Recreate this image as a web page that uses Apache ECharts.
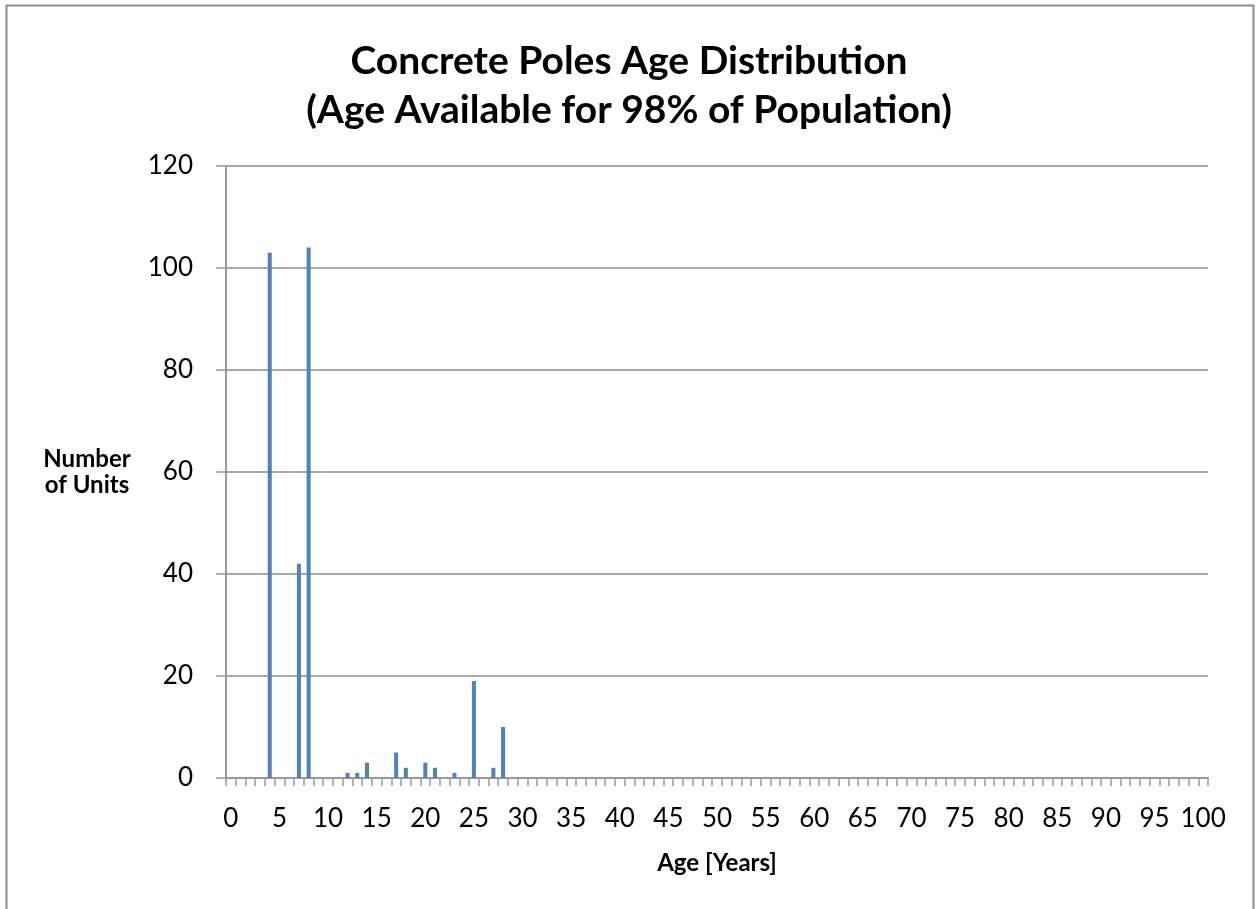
<!DOCTYPE html>
<html>
<head>
<meta charset="utf-8">
<script src="https://cdn.jsdelivr.net/npm/echarts@6/dist/echarts.min.js"></script>
<style>
    html, body {margin: 0; padding: 0; background: #fff;}
    #main {width: 1258px; height: 909px;}
</style>
</head>
<body>
<div id="main"></div>
<script>
// ages 0..100, one category per year
var ages = [];
for (var a = 0; a <= 100; a++) ages.push(String(a));

// ages that have poles, and how many
var poleAges = [4, 7, 8, 12, 13, 14, 17, 18, 20, 21, 23, 25, 27, 28];
var poleCounts = [103, 42, 104, 1, 1, 3, 5, 2, 3, 2, 1, 19, 2, 10];

var yTicks = {min: 0, max: 120, interval: 20};

var counts = ages.map(function () { return 0; });
for (var i = 0; i < poleAges.length; i++) {
    counts[poleAges[i]] = poleCounts[i];
}

var chart = echarts.init(document.getElementById('main'));
var font = 'Lato, "Liberation Sans", sans-serif';
var option = {
    animation: false,
    graphic: [{
        type: 'rect',
        shape: {x: 6.5, y: 5.5, width: 1247, height: 920},
        style: {fill: 'none', stroke: '#8c8c8c', lineWidth: 2},
        silent: true
    }],
    title: {
        text: 'Concrete Poles Age Distribution\n(Age Available for 98% of Population)',
        left: 'center',
        top: 32,
        textStyle: {fontFamily: font, fontSize: 39, fontWeight: 'bold', color: '#000', lineHeight: 49}
    },
    grid: {left: 226, right: 50, top: 166, bottom: 131},
    xAxis: {
        type: 'category',
        data: ages,
        name: 'Age [Years]',
        nameLocation: 'middle',
        nameGap: 73,
        nameTextStyle: {fontFamily: font, fontSize: 24, fontWeight: 'bold', color: '#000'},
        axisLine: {lineStyle: {color: '#999', width: 2}},
        axisTick: {show: true, interval: 0, length: 8, lineStyle: {color: '#999', width: 1.5}},
        axisLabel: {interval: 4, fontFamily: font, fontSize: 26, color: '#000', margin: 28}
    },
    yAxis: {
        type: 'value',
        min: yTicks.min,
        max: yTicks.max,
        interval: yTicks.interval,
        name: 'Number\nof Units',
        nameLocation: 'middle',
        nameRotate: 0,
        nameGap: 139,
        nameTextStyle: {fontFamily: font, fontSize: 24, fontWeight: 'bold', color: '#000', lineHeight: 26, align: 'center'},
        axisLine: {show: true, lineStyle: {color: '#999', width: 2}},
        axisTick: {show: true, length: 10, lineStyle: {color: '#999', width: 1.5}},
        axisLabel: {fontFamily: font, fontSize: 26, color: '#000', margin: 33},
        splitLine: {lineStyle: {color: '#8c8c8c', width: 1.5}}
    },
    series: [{
        type: 'bar',
        data: counts,
        barWidth: 4,
        itemStyle: {color: '#4f81bd'}
    }]
};
chart.setOption(option);
</script>
</body>
</html>
